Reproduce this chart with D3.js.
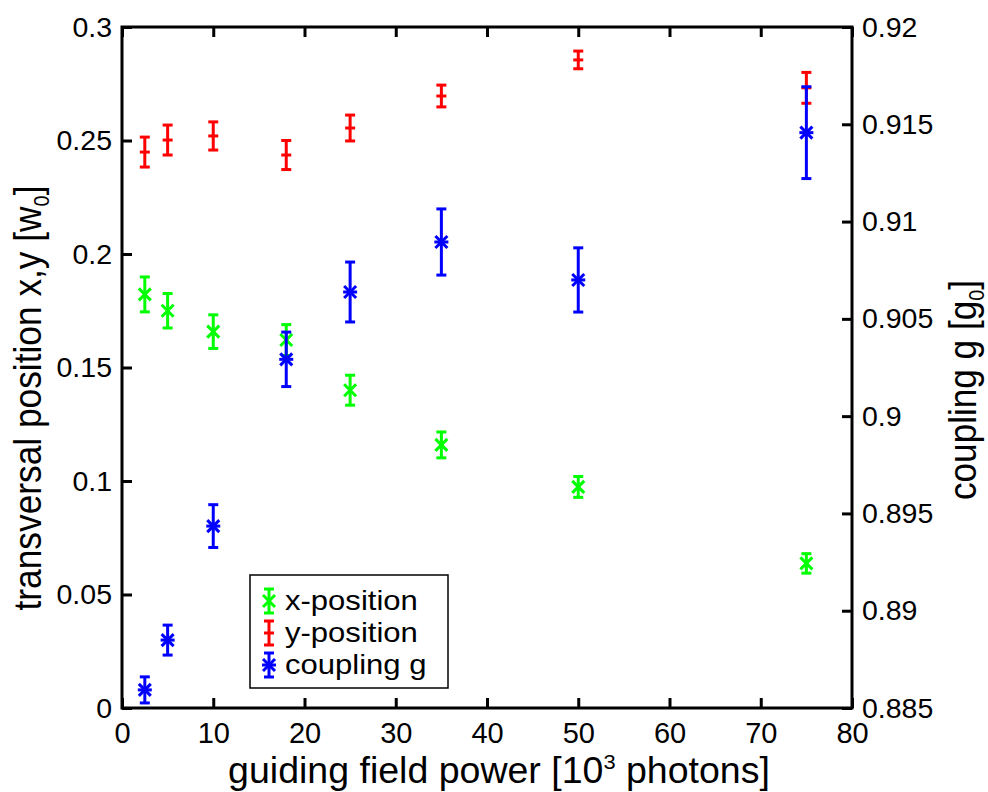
<!DOCTYPE html>
<html>
<head>
<meta charset="utf-8">
<script src="https://cdn.jsdelivr.net/npm/d3@7"></script>
<style>
  html, body { margin: 0; padding: 0; background: #fff; }
  svg { display: block; }
  text { font-family: "Liberation Sans", Arial, sans-serif; fill: #000; }
</style>
</head>
<body>
<svg id="chart" width="988" height="792"></svg>
<script>
// guiding field power [10^3 photons]
const power = [2.5, 5, 10, 18, 25, 35, 50, 75];

// transversal x position [w0]
const xPos = [0.1822, 0.1750, 0.1658, 0.1621, 0.1400, 0.1159, 0.0974, 0.0637];
const xPosErr = [0.0077, 0.0076, 0.0074, 0.0068, 0.0066, 0.0057, 0.0046, 0.0043];

// transversal y position [w0]
const yPos = [0.2449, 0.2502, 0.2520, 0.2436, 0.2555, 0.2696, 0.2855, 0.2732];
const yPosErr = [0.0066, 0.0066, 0.0062, 0.0064, 0.0057, 0.0048, 0.0039, 0.0068];

// coupling g [g0]
const coupling = [0.88593, 0.88849, 0.89435, 0.90292, 0.90638, 0.90895, 0.90700, 0.91457];
const couplingErr = [0.00067, 0.00077, 0.0011, 0.0014, 0.00154, 0.0017, 0.00165, 0.00236];

const xTicks = [0, 10, 20, 30, 40, 50, 60, 70, 80];
const yLeftTicks = [0, 0.05, 0.1, 0.15, 0.2, 0.25, 0.3];
const yRightTicks = [0.885, 0.89, 0.895, 0.9, 0.905, 0.91, 0.915, 0.92];

const legendLabels = ["x-position", "y-position", "coupling g"];

const plotLeft = 122, plotRight = 852, plotTop = 27, plotBottom = 708;

const svg = d3.select("#chart");

const x = d3.scaleLinear().domain([0, 80]).range([plotLeft, plotRight]);
const yL = d3.scaleLinear().domain([0, 0.3]).range([plotBottom, plotTop]);
const yR = d3.scaleLinear().domain([0.885, 0.92]).range([plotBottom, plotTop]);

const fmt = d => String(+d.toFixed(3));

function styleAxis(g) {
    g.select(".domain").remove();
    g.selectAll(".tick line").attr("stroke", "#000").attr("stroke-width", 3);
    g.selectAll(".tick text").attr("font-size", 28.5).attr("fill", "#000");
}

// axes (ticks point inward)
svg.append("g")
    .attr("transform", `translate(${plotLeft},0)`)
    .call(d3.axisLeft(yL).tickValues(yLeftTicks).tickFormat(fmt).tickSizeInner(-10).tickSizeOuter(0).tickPadding(10))
    .call(styleAxis);

svg.append("g")
    .attr("transform", `translate(${plotRight},0)`)
    .call(d3.axisRight(yR).tickValues(yRightTicks).tickFormat(fmt).tickSizeInner(-10).tickSizeOuter(0).tickPadding(10))
    .call(styleAxis);

svg.append("g")
    .attr("transform", `translate(0,${plotBottom})`)
    .call(d3.axisBottom(x).tickValues(xTicks).tickFormat(d3.format("d")).tickSizeInner(-10).tickSizeOuter(0).tickPadding(14))
    .call(styleAxis)
    .selectAll(".tick text").attr("font-size", 29);

svg.append("g")
    .attr("transform", `translate(0,${plotTop})`)
    .call(d3.axisTop(x).tickValues(xTicks).tickFormat("").tickSizeInner(-10).tickSizeOuter(0))
    .call(styleAxis);

// box
svg.append("rect")
    .attr("x", plotLeft).attr("y", plotTop)
    .attr("width", plotRight - plotLeft).attr("height", plotBottom - plotTop)
    .attr("fill", "none").attr("stroke", "#000").attr("stroke-width", 3);

// markers
function drawMarker(g, kind, color, cx, cy) {
    const s = 6;
    if (kind === "x" || kind === "star") {
        g.append("line").attr("x1", cx - s).attr("y1", cy - s).attr("x2", cx + s).attr("y2", cy + s)
            .attr("stroke", color).attr("stroke-width", 3);
        g.append("line").attr("x1", cx - s).attr("y1", cy + s).attr("x2", cx + s).attr("y2", cy - s)
            .attr("stroke", color).attr("stroke-width", 3);
    }
    if (kind === "star") {
        g.append("line").attr("x1", cx - s - 1).attr("y1", cy).attr("x2", cx + s + 1).attr("y2", cy)
            .attr("stroke", color).attr("stroke-width", 3);
    }
    if (kind === "dash") {
        g.append("line").attr("x1", cx - 5).attr("y1", cy).attr("x2", cx + 5).attr("y2", cy)
            .attr("stroke", color).attr("stroke-width", 3);
    }
}

function drawErrorBar(g, color, cx, yTop, yBot) {
    const cap = 5;
    g.append("line").attr("x1", cx).attr("x2", cx).attr("y1", yTop).attr("y2", yBot)
        .attr("stroke", color).attr("stroke-width", 3);
    g.append("line").attr("x1", cx - cap).attr("x2", cx + cap).attr("y1", yTop).attr("y2", yTop)
        .attr("stroke", color).attr("stroke-width", 3);
    g.append("line").attr("x1", cx - cap).attr("x2", cx + cap).attr("y1", yBot).attr("y2", yBot)
        .attr("stroke", color).attr("stroke-width", 3);
}

const series = [
    { values: xPos, errs: xPosErr, scale: yL, color: "#00ff00", marker: "x" },
    { values: yPos, errs: yPosErr, scale: yL, color: "#ff0000", marker: "dash" },
    { values: coupling, errs: couplingErr, scale: yR, color: "#0000ff", marker: "star" }
];

series.forEach(s => {
    const g = svg.append("g");
    power.forEach((p, i) => {
        const cx = x(p);
        drawErrorBar(g, s.color, cx, s.scale(s.values[i] + s.errs[i]), s.scale(s.values[i] - s.errs[i]));
        drawMarker(g, s.marker, s.color, cx, s.scale(s.values[i]));
    });
});

// fit text horizontally to a given length
function fit(textSel, target, tx, ty, rot) {
    const w = textSel.node().getBBox().width;
    const k = target / w;
    textSel.attr("transform", `translate(${tx},${ty})` + (rot ? ` rotate(${rot})` : "") + ` scale(${k},1)`);
}

// axis titles
const xLabel = svg.append("text").attr("text-anchor", "middle").attr("font-size", 36);
xLabel.append("tspan").text("guiding field power [10");
xLabel.append("tspan").attr("font-size", 21).attr("dy", -14).text("3");
xLabel.append("tspan").attr("dy", 14).text(" photons]");
fit(xLabel, 542, 499, 783);

const yLabel = svg.append("text").attr("text-anchor", "middle").attr("font-size", 39);
yLabel.append("tspan").text("transversal position x,y [w");
yLabel.append("tspan").attr("font-size", 22).attr("dy", 8).text("0");
yLabel.append("tspan").attr("dy", -8).text("]");
fit(yLabel, 425, 41, 398, -90);

const rLabel = svg.append("text").attr("text-anchor", "middle").attr("font-size", 39);
rLabel.append("tspan").text("coupling g [g");
rLabel.append("tspan").attr("font-size", 22).attr("dy", 8).text("0");
rLabel.append("tspan").attr("dy", -8).text("]");
fit(rLabel, 220, 976, 390, -90);

// legend
const legend = svg.append("g");
legend.append("rect")
    .attr("x", 250).attr("y", 575).attr("width", 198).attr("height", 113)
    .attr("fill", "#fff").attr("stroke", "#000").attr("stroke-width", 1.5);

series.forEach((s, i) => {
    const cy = 601 + i * 32;
    const g = legend.append("g");
    drawErrorBar(g, s.color, 269, cy - 12, cy + 12);
    drawMarker(g, s.marker, s.color, 269, cy);
    const t = legend.append("text")
        .attr("font-size", 27)
        .text(legendLabels[i]);
    t.attr("transform", `translate(285,${cy + 9}) scale(1.15,1)`);
});
</script>
</body>
</html>
